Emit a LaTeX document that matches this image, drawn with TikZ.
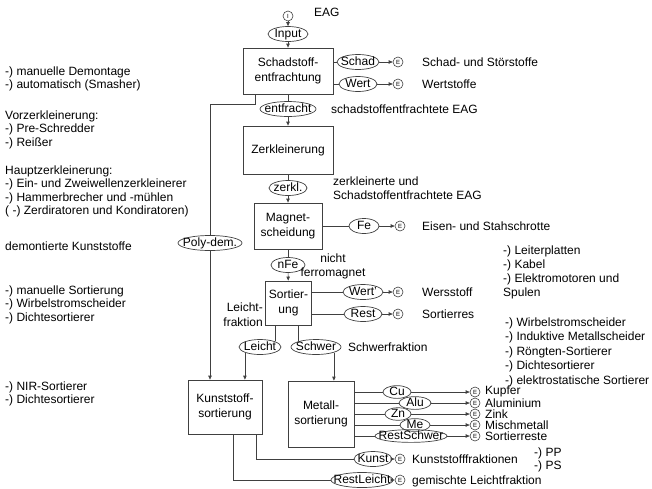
\documentclass[tikz,border=0pt]{standalone}
\usepackage{fontspec}
\setmainfont{Liberation Sans}
\usetikzlibrary{shapes.geometric,arrows.meta}
\begin{document}
\begin{tikzpicture}[x=1pt,y=-1pt,
  every node/.style={font=\fontsize{12}{15}\selectfont, inner sep=0pt},
  ln/.style={draw=black!75, line width=0.7pt},
  arr/.style={ln, -{Triangle[length=4pt,width=3.4pt]}},
  box/.style={draw=black!75, line width=0.7pt, rectangle, align=center},
  ell/.style={draw=black!75, line width=0.7pt, ellipse, text height=8pt, text depth=1pt, minimum height=15pt},
  sell/.style={ell, minimum height=12pt},
  ecirc/.style={draw=black!75, line width=0.6pt, circle, minimum size=10pt, font=\fontsize{6}{6}\selectfont},
  txt/.style={anchor=base west, align=left, font=\fontsize{12}{13.5}\selectfont},
]
\useasboundingbox (0,0) rectangle (652,488);

% left column (base = baseline of last line)
\node[txt] (la) at (5,88.5) {-) manuelle Demontage\\-) automatisch (Smasher)};
\node[txt] (lb) at (5,146) {Vorzerkleinerung:\\-) Pre-Schredder\\-) Reißer};
\node[txt] (lc) at (5,214.5) {Hauptzerkleinerung:\\-) Ein- und Zweiwellenzerkleinerer\\-) Hammerbrecher und -mühlen\\( -) Zerdiratoren und Kondiratoren)};
\node[txt] (ld) at (5,250) {demontierte Kunststoffe};
\node[txt] (le) at (5,321) {-) manuelle Sortierung\\-) Wirbelstromscheider\\-) Dichtesortierer};
\node[txt] (lf) at (5,403.5) {-) NIR-Sortierer\\-) Dichtesortierer};

% main spine
\node[ecirc] (I) at (288,16) {I};
\node[txt] (eag) at (314,16) {EAG};
\node[ell, minimum width=40] (inp) at (288,34) {\makebox[0pt]{Input}};
\node[box, minimum width=90, minimum height=46] (b1) at (288,71) {Schadstoff-\\entfrachtung};
\node[ell, minimum width=42] (schad) at (358,62) {\makebox[0pt]{Schad}};
\node[ecirc] (e1) at (398,62) {E};
\node[txt] (t1) at (422,66) {Schad- und Störstoffe};
\node[ell, minimum width=38] (wert) at (358,84) {\makebox[0pt]{Wert}};
\node[ecirc] (e2) at (398,84) {E};
\node[txt] (t2) at (422,88) {Wertstoffe};

\node[ell, minimum width=56] (ef) at (288,109) {\makebox[0pt]{entfracht}};
\node[txt] (t3) at (331,113) {schadstoffentfrachtete EAG};

\node[box, minimum width=90, minimum height=48] (b2) at (288,150) {Zerkleinerung};
\node[ell, minimum width=38] (zk) at (288,188) {\makebox[0pt]{zerkl.}};
\node[txt, font=\fontsize{12}{14}\selectfont] (t4) at (333,199) {zerkleinerte und\\Schadstoffentfrachtete EAG};

\node[box, minimum width=68, minimum height=46] (b3) at (288,226) {Magnet-\\scheidung};
\node[ell, minimum width=30] (fe) at (364,226) {\makebox[0pt]{Fe}};
\node[ecirc] (e3) at (400,226) {E};
\node[txt] (t5) at (422,230) {Eisen- und Stahschrotte};

\node[ell, minimum width=64] (poly) at (210,243) {\makebox[0pt]{Poly-dem.}};

\node[ell, minimum width=34] (nfe) at (288,265) {\makebox[0pt]{nFe}};
\node[anchor=base, align=center, font=\fontsize{12}{14}\selectfont] (t6) at (333,276) {nicht\\ferromagnet};

\node[box, minimum width=46, minimum height=44] (b4) at (288.5,303) {Sortier-\\ung};
\node[ell, minimum width=40] (wp) at (363,292) {\makebox[0pt]{Wert'}};
\node[ecirc] (e4) at (398,292) {E};
\node[txt] (t7) at (422,296) {Wersstoff};
\node[ell, minimum width=38] (rest) at (363,314) {\makebox[0pt]{Rest}};
\node[ecirc] (e5) at (398,314) {E};
\node[txt] (t8) at (422,318) {Sortierres};
\node[anchor=base east, align=right, font=\fontsize{12}{15}\selectfont] (t9) at (263,326) {Leicht-\\fraktion};

\node[ell, minimum width=42] (leicht) at (260,347) {\makebox[0pt]{Leicht}};
\node[ell, minimum width=50] (schwer) at (316,347) {\makebox[0pt]{Schwer}};
\node[txt] (t10) at (348,351) {Schwerfraktion};

\node[box, minimum width=74, minimum height=54] (kb) at (225,407) {Kunststoff-\\sortierung};
\node[box, minimum width=66, minimum height=66] (mb) at (321,414) {Metall-\\sortierung};

% metal outputs
\node[sell, minimum width=28] (cu) at (397,392) {\makebox[0pt]{Cu}};
\node[sell, minimum width=32] (alu) at (415,403) {\makebox[0pt]{Alu}};
\node[sell, minimum width=26] (zn) at (398,414) {\makebox[0pt]{Zn}};
\node[sell, minimum width=30] (me) at (415,425) {\makebox[0pt]{Me}};
\node[sell, minimum width=72] (rs) at (411,436) {\makebox[0pt]{RestSchwer}};
\foreach \n/\y in {cu/392,alu/403,zn/414,me/425,rs/436}{
  \node[ecirc] (E\n) at (475,\y) {E};
}
\node[txt, font=\fontsize{12}{11}\selectfont] (t11) at (485,440) {Kupfer\\Aluminium\\Zink\\Mischmetall\\Sortierreste};

\node[ell, minimum width=38] (kunst) at (373,459) {\makebox[0pt]{Kunst}};
\node[ecirc] (e6) at (400,459) {E};
\node[txt] (t12) at (412,463) {Kunststofffraktionen};
\node[ell, minimum width=62] (rl) at (362,480) {\makebox[0pt]{RestLeicht}};
\node[ecirc] (e7) at (400,480) {E};
\node[txt] (t13) at (412,484) {gemischte Leichtfraktion};

% right notes
\node[txt, font=\fontsize{12}{14}\selectfont] (r1) at (503,296) {-) Leiterplatten\\-) Kabel\\-) Elektromotoren und\\Spulen};
\node[txt, font=\fontsize{12}{14.5}\selectfont] (r2) at (505,384) {-) Wirbelstromscheider\\-) Induktive Metallscheider\\-) Röngten-Sortierer\\-) Dichtesortierer\\-) elektrostatische Sortierer};
\node[txt, font=\fontsize{12}{13}\selectfont] (r3) at (534,469) {-) PP\\-) PS};

% connectors
\draw[arr] (I) -- (inp);
\draw[arr] (inp) -- (b1);
\draw[ln] (b1.east |- schad) -- (schad);
\draw[arr] (schad) -- (e1);
\draw[ln] (b1.east |- wert) -- (wert);
\draw[arr] (wert) -- (e2);
\draw[ln] (b1) -- (ef);
\draw[arr] (ef) -- (b2);
\draw[ln] (b2) -- (zk);
\draw[arr] (zk) -- (b3);
\draw[ln] (b3) -- (fe);
\draw[arr] (fe) -- (e3);
\draw[ln] (b3) -- (nfe);
\draw[arr] (nfe) -- (b4);
\draw[ln] (b4.east |- wp) -- (wp);
\draw[arr] (wp) -- (e4);
\draw[ln] (b4.east |- rest) -- (rest);
\draw[arr] (rest) -- (e5);
% poly-dem branch
\coordinate (p1) at (255,104);
\draw[ln] (b1.south -| p1) -- (p1) -- (p1 -| poly) -- (poly);
\draw[arr] (poly) -- (poly |- kb.north);
% leicht / schwer
\draw[ln] (b4.south -| leicht.north east) -- (leicht.north east);
\draw[arr] (leicht.south west) -- (leicht.south west |- kb.north);
\draw[ln] (b4.south -| schwer.north west) -- (schwer.north west);
\draw[arr] (schwer.south east) -- (schwer.south east |- mb.north);
% metal outputs
\foreach \n in {cu,alu,zn,me,rs}{
  \draw[ln] (mb.east |- \n) -- (\n);
  \draw[arr] (\n) -- (E\n);
}
% kunststoff outputs
\coordinate (k1) at (256,0);
\coordinate (k2) at (233,0);
\draw[ln] (kb.south -| k1) -- (kunst -| k1) -- (kunst);
\draw[arr] (kunst) -- (e6);
\draw[ln] (kb.south -| k2) -- (rl -| k2) -- (rl);
\draw[arr] (rl) -- (e7);
\end{tikzpicture}
\end{document}
